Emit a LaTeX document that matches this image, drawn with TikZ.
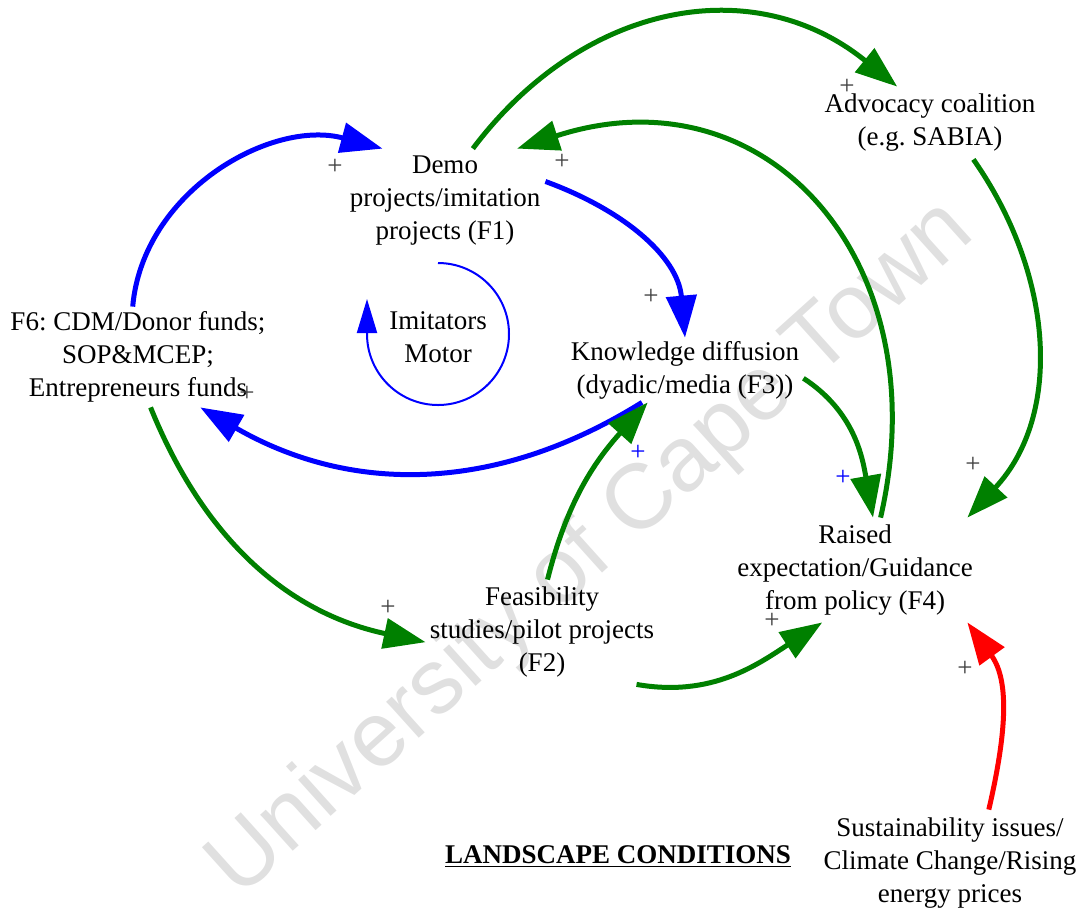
\documentclass[tikz,border=0pt]{standalone}
\usepackage{fontspec}
\setmainfont{Liberation Serif}
\newfontfamily\wmfont{Liberation Sans}
\usetikzlibrary{arrows.meta}
\frenchspacing

\begin{document}
\begin{tikzpicture}[x=0.5pt, y=0.5pt]
	\tikzset{
		factornode/.style={rectangle, inner sep=0pt, align=center, font=\fontsize{13.5}{16.5}\selectfont},
		plusnode/.style={inner sep=0pt, font=\fontsize{13.5}{16.5}\selectfont, text=black!75},
		bluearrow/.style={draw=blue, line width=2.5pt, -{Triangle[length=21pt, width=15pt]}},
		greenarrow/.style={draw=green!50!black, line width=2.5pt, -{Triangle[length=21pt, width=15pt]}},
		redarrow/.style={draw=red, line width=2.5pt, -{Triangle[length=21pt, width=15pt]}},
		loopline/.style={draw=blue, line width=1pt, -{Triangle[length=17pt, width=10pt]}},
	}
	\useasboundingbox (0,0) rectangle (1082,-907);

	% watermark
	\node[rotate=42, text=black!12, font=\wmfont\fontsize{46}{50}\selectfont] (wm) at (592,-550) {University of Cape Town};

	% factors
	\node[factornode, minimum width=100pt, minimum height=52pt] (f1) at (445,-201) {Demo\\projects/imitation\\projects (F1)};
	\node[factornode, minimum width=110pt, minimum height=36pt] (adv) at (930,-123) {Advocacy coalition\\(e.g. SABIA)};
	\node[factornode, minimum width=132pt, minimum height=50pt] (f6) at (138,-357) {F6: CDM/Donor funds;\\SOP\&MCEP;\\Entrepreneurs funds};
	\node[factornode] (motor) at (438,-337) {Imitators\\Motor};
	\node[factornode, minimum width=118pt, minimum height=32pt] (kd) at (685,-370) {Knowledge diffusion\\(dyadic/media (F3))};
	\node[factornode, minimum width=122pt, minimum height=52pt] (rg) at (855,-570) {Raised\\expectation/Guidance\\from policy (F4)};
	\node[factornode, minimum width=116pt, minimum height=52pt] (fs) at (542,-632) {Feasibility\\studies/pilot projects\\(F2)};
	\node[factornode, minimum width=130pt, minimum height=53pt] (sus) at (950,-863) {Sustainability issues/\\Climate Change/Rising\\energy prices};
	\node[factornode, font=\fontsize{13.5}{16.5}\selectfont\bfseries] (land) at (618,-857) {\underline{LANDSCAPE CONDITIONS}};

	% links
	\draw[bluearrow] (f6.96) to[out=85, in=165] (f1.140);
	\draw[bluearrow] (f1.11) to[out=-20, in=95] (kd.north);
	\draw[bluearrow] (kd.217) to[out=212, in=-30] (f6.-39);
	\draw[loopline] ([shift={(0,74)}]motor.center) arc[start angle=90, end angle=-180, radius=71] -- ++(0,35);

	\draw[greenarrow] (f1.62) to[out=53, in=141, looseness=1.1] (adv.132);
	\draw[greenarrow] (rg.64) to[out=77, in=18, looseness=1.3] (f1.36);
	\draw[greenarrow] (adv.-40) to[out=-55, in=47] (rg.25);
	\draw[greenarrow] (kd.-4) to[out=-33, in=100] (rg.71);
	\draw[greenarrow] (f6.-76) to[out=-68, in=168] (fs.185);
	\draw[greenarrow] (fs.84.5) to[out=76, in=228] (kd.221);
	\draw[greenarrow] (fs.-29) to[out=-10, in=213] (rg.238);
	\draw[redarrow] (sus.54) to[out=77, in=306] (rg.-25);

	% polarity signs
	\node[plusnode] (p1) at (335,-167) {+};
	\node[plusnode] (p2) at (562,-162) {+};
	\node[plusnode] (p3) at (847,-87) {+};
	\node[plusnode] (p4) at (651,-297) {+};
	\node[plusnode] (p5) at (247,-394) {+};
	\node[plusnode, text=blue] (p6) at (638,-453) {+};
	\node[plusnode, text=blue] (p7) at (843,-478) {+};
	\node[plusnode] (p8) at (973,-465) {+};
	\node[plusnode] (p9) at (388,-608) {+};
	\node[plusnode] (p10) at (772,-621) {+};
	\node[plusnode] (p11) at (965,-669) {+};
\end{tikzpicture}
\end{document}
